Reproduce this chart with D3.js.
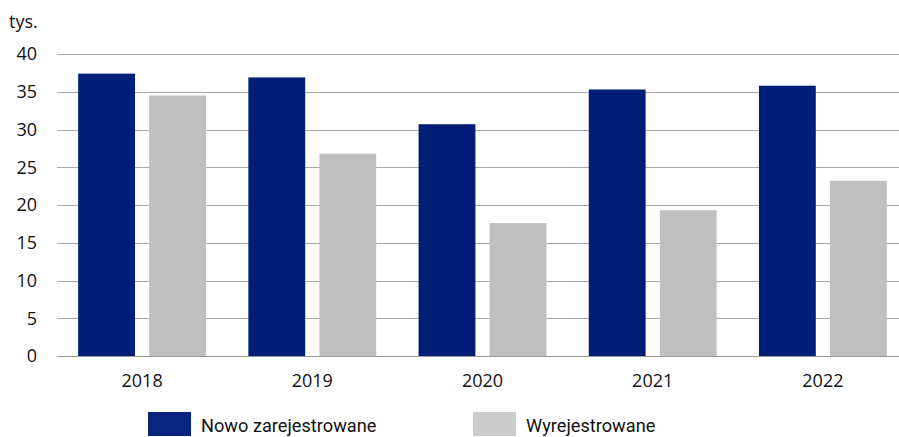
<!DOCTYPE html>
<html>
<head>
<meta charset="utf-8">
<script src="https://cdn.jsdelivr.net/npm/d3@7"></script>
<style>
  html, body { margin: 0; padding: 0; background: #fff; overflow: hidden; }
  svg { display: block; }
</style>
</head>
<body>
<svg id="chart" width="899" height="437"></svg>
<script>
const years = ["2018", "2019", "2020", "2021", "2022"];
const seriesNames = ["Nowo zarejestrowane", "Wyrejestrowane"];
const nowoZarejestrowane = [37.4, 36.9, 30.7, 35.3, 35.8];
const wyrejestrowane = [34.5, 26.8, 17.6, 19.3, 23.2];
const yTicks = [0, 5, 10, 15, 20, 25, 30, 35, 40];
const unitLabel = "tys.";
const colors = ["#001e78", "#bfbfbf"];

(function () {
const svg = d3.select("#chart");
const mLeft = 57, mRight = 908, mTop = 54, mBottom = 356;

const x = d3.scaleBand().domain(years).range([mLeft, mRight]).paddingInner(0.2486).paddingOuter(0.1243);
const x1 = d3.scaleBand().domain([0, 1]).range([0, x.bandwidth()]).paddingInner(0.2);
const y = d3.scaleLinear().domain([0, 40]).range([mBottom, mTop]);

const axisFont = "'Open Sans', sans-serif";
const axisSize = 18;

// gridlines
svg.append("g").selectAll("line").data(yTicks).join("line")
  .attr("x1", mLeft).attr("x2", 899)
  .attr("y1", d => Math.round(y(d)) + 0.5).attr("y2", d => Math.round(y(d)) + 0.5)
  .attr("stroke", d => d === 0 ? "#9a9a9a" : "#a8a8a8").attr("stroke-width", 1);

// y axis labels
const yAxis = d3.axisLeft(y).tickValues(yTicks).tickSize(0).tickPadding(0);
const gy = svg.append("g").attr("transform", `translate(${mLeft - 20},0)`).call(yAxis);
gy.select(".domain").remove();
gy.selectAll("text").attr("font-family", axisFont).attr("font-size", axisSize).attr("fill", "#111");

// unit label
svg.append("text").attr("x", 9).attr("y", 28).text(unitLabel)
  .attr("font-family", axisFont).attr("font-size", axisSize).attr("fill", "#111");

// bars
const data = years.map((yr, i) => ({ yr, vals: [nowoZarejestrowane[i], wyrejestrowane[i]] }));
const groups = svg.append("g").selectAll("g").data(data).join("g")
  .attr("transform", d => `translate(${x(d.yr)},0)`);
groups.selectAll("rect").data(d => d.vals.map((v, k) => ({ v, k }))).join("rect")
  .attr("x", d => x1(d.k)).attr("width", x1.bandwidth())
  .attr("y", d => y(d.v)).attr("height", d => y(0) - y(d.v))
  .attr("fill", d => colors[d.k]);

// baseline on top
svg.append("line").attr("x1", mLeft).attr("x2", 899)
  .attr("y1", Math.round(y(0)) + 0.5).attr("y2", Math.round(y(0)) + 0.5)
  .attr("stroke", "#9a9a9a");

// x axis labels
const xAxis = d3.axisBottom(x).tickSize(0).tickPadding(0);
const gx = svg.append("g").attr("transform", `translate(0,${mBottom + 18})`).call(xAxis);
gx.select(".domain").remove();
gx.selectAll("text").attr("font-family", axisFont).attr("font-size", axisSize).attr("fill", "#111");

// legend
const legendX = [148, 473];
const leg = svg.append("g").selectAll("g").data(seriesNames).join("g")
  .attr("transform", (d, i) => `translate(${legendX[i]},412)`);
leg.append("rect").attr("width", 43).attr("height", 24).attr("fill", (d, i) => i === 0 ? "#0a2580" : "#cccccc");
leg.append("text").attr("x", 53).attr("y", 19.5).text(d => d)
  .attr("font-family", "'Roboto', sans-serif").attr("font-size", 18.2).attr("fill", "#111");
})();
</script>
</body>
</html>
